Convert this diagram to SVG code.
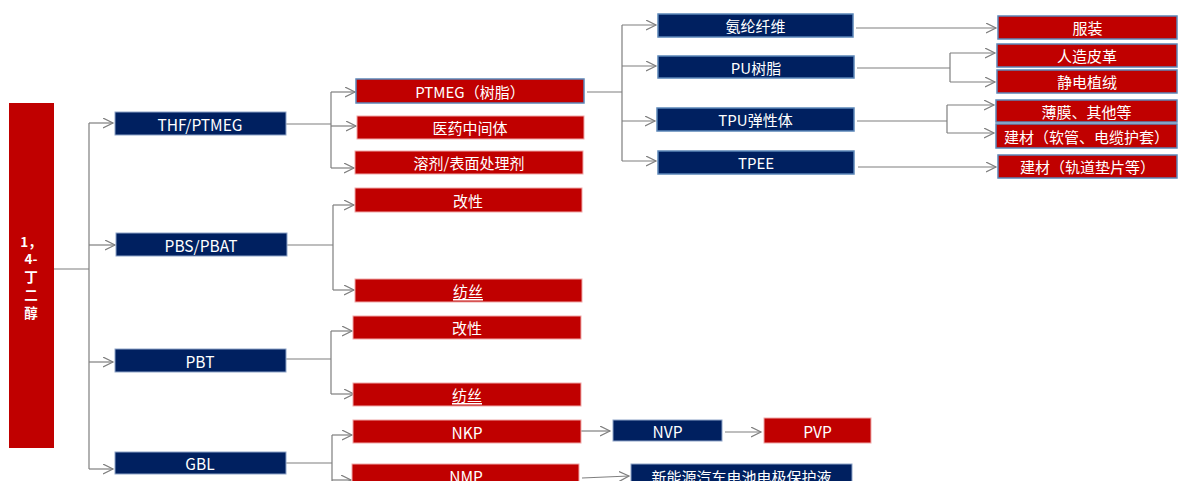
<svg xmlns="http://www.w3.org/2000/svg" width="1179" height="481" viewBox="0 0 1179 481">
  <defs>
    <marker id="arrow" markerUnits="userSpaceOnUse" markerWidth="12" markerHeight="12" refX="10" refY="5" orient="auto">
      <path d="M0,0 L10,5 L0,10" fill="none" stroke="#7F7F7F" stroke-width="1.2"/>
    </marker>
    <style>
      .navy { fill: #002060; stroke: #8EA4C8; stroke-width: 1; }
      .navyb { fill: #002060; stroke: #5B86B8; stroke-width: 1.5; }
      .red { fill: #C00000; stroke: #F0A8A8; stroke-width: 1; }
      .redb { fill: #C00000; stroke: #5B86B8; stroke-width: 1.5; }
      text { font-family: "Noto Sans CJK SC", "Noto Sans", sans-serif; fill: #FFFFFF; text-anchor: middle; dominant-baseline: central; font-size: 15px; }
      .l1 { font-size: 15.5px; }
      .root { font-weight: bold; font-size: 13.5px; }
      .line { fill: none; stroke: #7F7F7F; stroke-width: 1.2; }
      .arr { fill: none; stroke: #7F7F7F; stroke-width: 1.2; marker-end: url(#arrow); }
    </style>
  </defs>
  <rect width="1179" height="481" fill="#FFFFFF"/>

  <!-- connectors -->
  <g id="connectors">
    <!-- root to level 1 -->
    <path class="line" d="M54,269 H89 M89,123 V469"/>
    <path class="arr" d="M89,123 H113"/>
    <path class="arr" d="M89,245 H115"/>
    <path class="arr" d="M89,362 H113"/>
    <path class="arr" d="M89,469 H113"/>
    <!-- THF/PTMEG -->
    <path class="line" d="M286,124 H331 M331,92 V168"/>
    <path class="arr" d="M331,92 H355"/>
    <path class="arr" d="M331,126 H356"/>
    <path class="arr" d="M331,168 H354"/>
    <!-- PBS/PBAT -->
    <path class="line" d="M287,245 H333 M333,205 V290"/>
    <path class="arr" d="M333,205 H354"/>
    <path class="arr" d="M333,290 H354"/>
    <!-- PBT -->
    <path class="line" d="M286,359 H331 M331,331 V394"/>
    <path class="arr" d="M331,331 H352"/>
    <path class="arr" d="M331,394 H354"/>
    <!-- GBL -->
    <path class="line" d="M286,463 H332 M332,435 V481"/>
    <path class="arr" d="M332,435 H352"/>
    <path class="arr" d="M332,480 H351"/>
    <!-- NKP / NVP / NMP chain -->
    <path class="arr" d="M581,431 H610"/>
    <path class="arr" d="M725,432 H761"/>
    <path class="arr" d="M582,478 L629,476"/>
    <!-- PTMEG resin -->
    <path class="line" d="M587,92 H622 M622,25 V161"/>
    <path class="arr" d="M622,25 H656"/>
    <path class="arr" d="M622,66 H656"/>
    <path class="arr" d="M622,121 H655"/>
    <path class="arr" d="M622,161 H656"/>
    <!-- level 3 to end uses -->
    <path class="arr" d="M856,28 H996"/>
    <path class="line" d="M857,68 H950 M950,53 V82"/>
    <path class="arr" d="M950,53 H995"/>
    <path class="arr" d="M950,82 H995"/>
    <path class="line" d="M857,121 H947 M947,105 V133"/>
    <path class="arr" d="M947,105 H994"/>
    <path class="arr" d="M947,133 H994"/>
    <path class="arr" d="M858,167 H996"/>
  </g>

  <!-- root -->
  <g id="n-bdo">
    <rect x="9" y="103" width="45" height="345" fill="#C00000"/>
    <text class="root" x="31" y="241">1，</text>
    <text class="root" x="31" y="258">4-</text>
    <text class="root" x="31" y="276">丁</text>
    <text class="root" x="31" y="294">二</text>
    <text class="root" x="31" y="312">醇</text>
  </g>

  <!-- level 1 -->
  <g id="n-thf"><rect class="navy" x="115" y="112" width="171" height="23"/><text class="l1" x="200" y="123.5">THF/PTMEG</text></g>
  <g id="n-pbs"><rect class="navy" x="116" y="233" width="171" height="23"/><text class="l1" x="201" y="244.5">PBS/PBAT</text></g>
  <g id="n-pbt"><rect class="navy" x="115" y="349" width="171" height="23"/><text class="l1" x="200" y="360.5">PBT</text></g>
  <g id="n-gbl"><rect class="navy" x="115" y="452" width="171" height="22"/><text class="l1" x="200" y="463">GBL</text></g>

  <!-- level 2 -->
  <g id="n-ptmeg"><rect class="redb" x="356" y="79" width="228" height="24"/><text x="470" y="91">PTMEG（树脂）</text></g>
  <g id="n-pharma"><rect class="red" x="357" y="116" width="227" height="23"/><text x="470" y="127.5">医药中间体</text></g>
  <g id="n-solvent"><rect class="red" x="355" y="151" width="228" height="23"/><text x="469" y="162.5">溶剂/表面处理剂</text></g>
  <g id="n-pbs-mod"><rect class="red" x="355" y="188" width="227" height="24"/><text x="468" y="200">改性</text></g>
  <g id="n-pbs-fiber"><rect class="red" x="355" y="279" width="227" height="23"/><text x="468" y="290.5" text-decoration="underline">纺丝</text></g>
  <g id="n-pbt-mod"><rect class="red" x="353" y="316" width="228" height="23"/><text x="467" y="327.5">改性</text></g>
  <g id="n-pbt-fiber"><rect class="red" x="353" y="383" width="228" height="23"/><text x="467" y="394.5" text-decoration="underline">纺丝</text></g>
  <g id="n-nkp"><rect class="red" x="353" y="420" width="228" height="23"/><text class="l1" x="467" y="431.5">NKP</text></g>
  <g id="n-nmp"><rect class="red" x="352" y="464" width="227" height="24"/><text class="l1" x="466" y="476">NMP</text></g>

  <!-- GBL chain -->
  <g id="n-nvp"><rect class="navy" x="613" y="420" width="109" height="21"/><text class="l1" x="667.5" y="430.5">NVP</text></g>
  <g id="n-pvp"><rect class="red" x="764" y="418" width="107" height="25"/><text class="l1" x="817.5" y="430.5">PVP</text></g>
  <g id="n-battery"><rect class="navy" x="631" y="464" width="221" height="24"/><text x="741.5" y="476">新能源汽车电池电极保护液</text></g>

  <!-- level 3 -->
  <g id="n-spandex"><rect class="navyb" x="658" y="14" width="195" height="23"/><text x="755.5" y="25.5">氨纶纤维</text></g>
  <g id="n-pu"><rect class="navyb" x="658" y="56" width="196" height="22"/><text x="756" y="67">PU树脂</text></g>
  <g id="n-tpu"><rect class="navyb" x="657" y="108" width="197" height="23"/><text x="755.5" y="119.5">TPU弹性体</text></g>
  <g id="n-tpee"><rect class="navyb" x="658" y="151" width="196" height="23"/><text x="756" y="162.5">TPEE</text></g>

  <!-- level 4 -->
  <g id="n-apparel"><rect class="redb" x="998" y="16" width="179" height="23"/><text x="1087.5" y="27.5">服装</text></g>
  <g id="n-leather"><rect class="redb" x="997" y="44" width="180" height="23"/><text x="1087" y="55.5">人造皮革</text></g>
  <g id="n-flock"><rect class="redb" x="997" y="70" width="180" height="23"/><text x="1087" y="81.5">静电植绒</text></g>
  <g id="n-film"><rect class="redb" x="996" y="100" width="181" height="22"/><text x="1086.5" y="111">薄膜、其他等</text></g>
  <g id="n-cable"><rect class="redb" x="996" y="124" width="181" height="24"/><text x="1086.5" y="136">建材（软管、电缆护套）</text></g>
  <g id="n-rail"><rect class="redb" x="998" y="155" width="179" height="23"/><text x="1087.5" y="166.5">建材（轨道垫片等）</text></g>
</svg>
